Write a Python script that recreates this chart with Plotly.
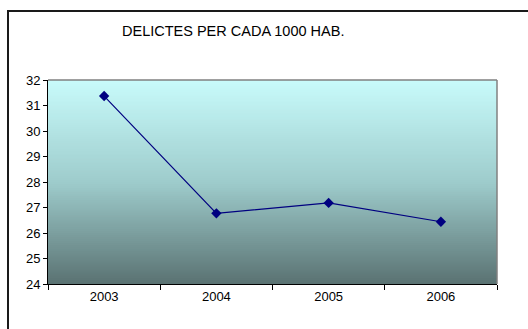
import plotly.graph_objects as go

years = ["2003", "2004", "2005", "2006"]
values = [31.37, 26.77, 27.18, 26.44]
title_text = "DELICTES PER CADA 1000 HAB."

W, H = 528, 329
L, R, T, B = 48, 497, 80, 284

fig = go.Figure()
fig.add_trace(go.Scatter(
    x=years, y=values, mode="lines+markers",
    line=dict(color="#000080", width=1.2),
    marker=dict(symbol="diamond", size=8, color="#000080"),
    showlegend=False, hoverinfo="skip",
))

# gradient background: nested rects from the bottom, drawn largest first
top = (200, 251, 251)
mid = (158, 204, 204)
bot = (90, 114, 114)
n = 100
shapes = []
for i in range(n - 1, -1, -1):
    f = (i + 0.5) / n  # 0 at bottom, 1 at top
    if f > 0.5:
        g = (f - 0.5) / 0.5
        c = [mid[k] + (top[k] - mid[k]) * g for k in range(3)]
    else:
        g = f / 0.5
        c = [bot[k] + (mid[k] - bot[k]) * g for k in range(3)]
    shapes.append(dict(type="rect", xref="x domain", yref="y domain",
                       x0=0, x1=1, y0=0, y1=(i + 1) / n,
                       fillcolor="rgb(%d,%d,%d)" % tuple(int(round(v)) for v in c),
                       line=dict(width=0), layer="below"))
# grey top/right border of plot area
shapes.append(dict(type="line", xref="x domain", yref="y domain", x0=0, x1=1, y0=1, y1=1,
                   line=dict(color="#808080", width=1.5)))
shapes.append(dict(type="line", xref="x domain", yref="y domain", x0=1, x1=1, y0=0, y1=1,
                   line=dict(color="#808080", width=1.5)))
# outer chart border (extends past right/bottom)
pw, ph = R - L, B - T
def px(x): return (x - L) / pw
def py(y): return (B - y) / ph
shapes.append(dict(type="rect", xref="paper", yref="paper",
                   x0=px(8), x1=px(540), y0=py(340), y1=py(11),
                   line=dict(color="#1a1a1a", width=2), fillcolor="rgba(0,0,0,0)"))

fig.update_layout(
    width=W, height=H,
    margin=dict(l=L, r=W - R, t=T, b=H - B, pad=0),
    paper_bgcolor="white", plot_bgcolor="rgba(0,0,0,0)",
    shapes=shapes,
    font=dict(family="Liberation Sans, Arial", size=13, color="black"),
    annotations=[dict(text=title_text, xref="paper", yref="paper",
                      x=px(233), y=py(31), xanchor="center", yanchor="middle",
                      showarrow=False, font=dict(size=14.5, color="black"))],
    xaxis=dict(type="category", showgrid=False, showline=True, linecolor="black", linewidth=1,
               ticks="outside", tickson="boundaries", ticklen=5, tickcolor="black",
               range=[-0.5, 3.5], zeroline=False, fixedrange=True),
    yaxis=dict(range=[24, 32], dtick=1, showgrid=False, showline=True, linecolor="black",
               linewidth=1, ticks="outside", ticklen=4, tickcolor="black", zeroline=False),
)

fig.write_html("out.html")
